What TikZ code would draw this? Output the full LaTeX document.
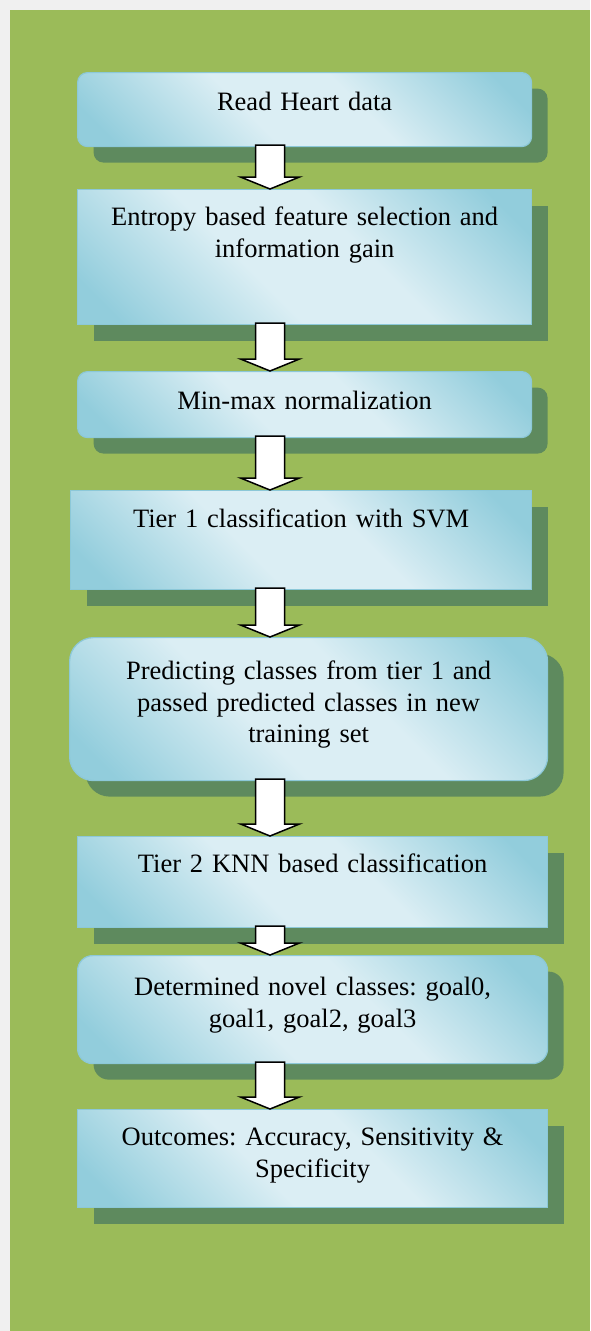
\documentclass[tikz,border=0pt]{standalone}
\usepackage{fontspec}
\setmainfont{Liberation Serif}
\usepackage{tikz}
\usetikzlibrary{calc,shadows}

\definecolor{leafgreen}{HTML}{9BBB59}
\definecolor{mossshadow}{HTML}{5E8A5E}
\definecolor{aquadeep}{HTML}{92CDDC}
\definecolor{aquapale}{HTML}{DBEEF4}
\definecolor{aquaedge}{HTML}{8CC8D8}
\definecolor{framegray}{HTML}{F0F0F0}

\pgfdeclareverticalshading{aquaglass}{100bp}{color(0bp)=(aquadeep); color(20bp)=(aquadeep);
  color(42bp)=(aquapale); color(58bp)=(aquapale); color(80bp)=(aquadeep); color(100bp)=(aquadeep)}

\begin{document}
\frenchspacing
\begin{tikzpicture}[x=1pt, y=-1pt,
  font=\fontsize{26.5}{31.5}\selectfont,
  stage/.style={draw=aquaedge, line width=1.2pt, anchor=north west,
                align=center, inner sep=0pt, text height=37pt,
                shading=aquaglass, shading angle=-45,
                drop shadow={shadow xshift=16pt, shadow yshift=-16pt,
                             fill=mossshadow, opacity=1}},
  softstage/.style={stage, rounded corners=#1},
  softstage/.default=10pt,
  blockarr/.style={draw=black, fill=white, line width=1.5pt, line join=miter}]

% page and panel
\fill[framegray] (0,0) rectangle (590,1331);
\fill[leafgreen] (10,10) rectangle (590,1331);
\coordinate (spine) at (270,0);

% the eight stages
\node[softstage, text width=454pt, text height=38pt, text depth=36pt] (read) at (77,72)
  {Read Heart data};
\node[stage, text width=454pt, text height=36pt, text depth=99pt] (entropy) at (77,189)
  {Entropy based feature selection and\\ information gain};
\node[softstage, text width=454pt, text height=38pt, text depth=28pt] (minmax) at (77,371)
  {Min-max normalization};
\node[stage, text width=461pt, text depth=62pt] (tierone) at (70,490)
  {Tier 1 classification with SVM};
\node[softstage=24pt, text width=478pt, text height=42pt, text depth=101pt] (predict) at (69,637)
  {Predicting classes from tier 1 and\\ passed predicted classes in new\\ training set};
\node[stage, text width=470pt, text height=36pt, text depth=55pt] (tiertwo) at (77,836)
  {Tier 2 KNN based classification};
\node[softstage=15pt, text width=470pt, text height=40pt, text depth=68pt] (novel) at (77,955)
  {Determined novel classes: goal0,\\ goal1, goal2, goal3};
\node[stage, text width=470pt, text height=36pt, text depth=62pt] (outcome) at (77,1109)
  {Outcomes: Accuracy, Sensitivity \&\\ Specificity};

% hollow block arrows between the stages
\foreach \a/\b in {read/entropy, entropy/minmax, minmax/tierone, tierone/predict,
                   predict/tiertwo, tiertwo/novel, novel/outcome}{
  \draw[blockarr] let \p0=(spine), \p1=(\a.south), \p2=(\b.north) in
    (\x0-14.5pt,\y1+2pt) -- (\x0+14.5pt,\y1+2pt) -- (\x0+14.5pt,\y2+12pt)
    -- (\x0+29.5pt,\y2+12pt) -- (\x0,\y2) -- (\x0-29.5pt,\y2+12pt)
    -- (\x0-14.5pt,\y2+12pt) -- cycle;
}
\end{tikzpicture}
\end{document}
